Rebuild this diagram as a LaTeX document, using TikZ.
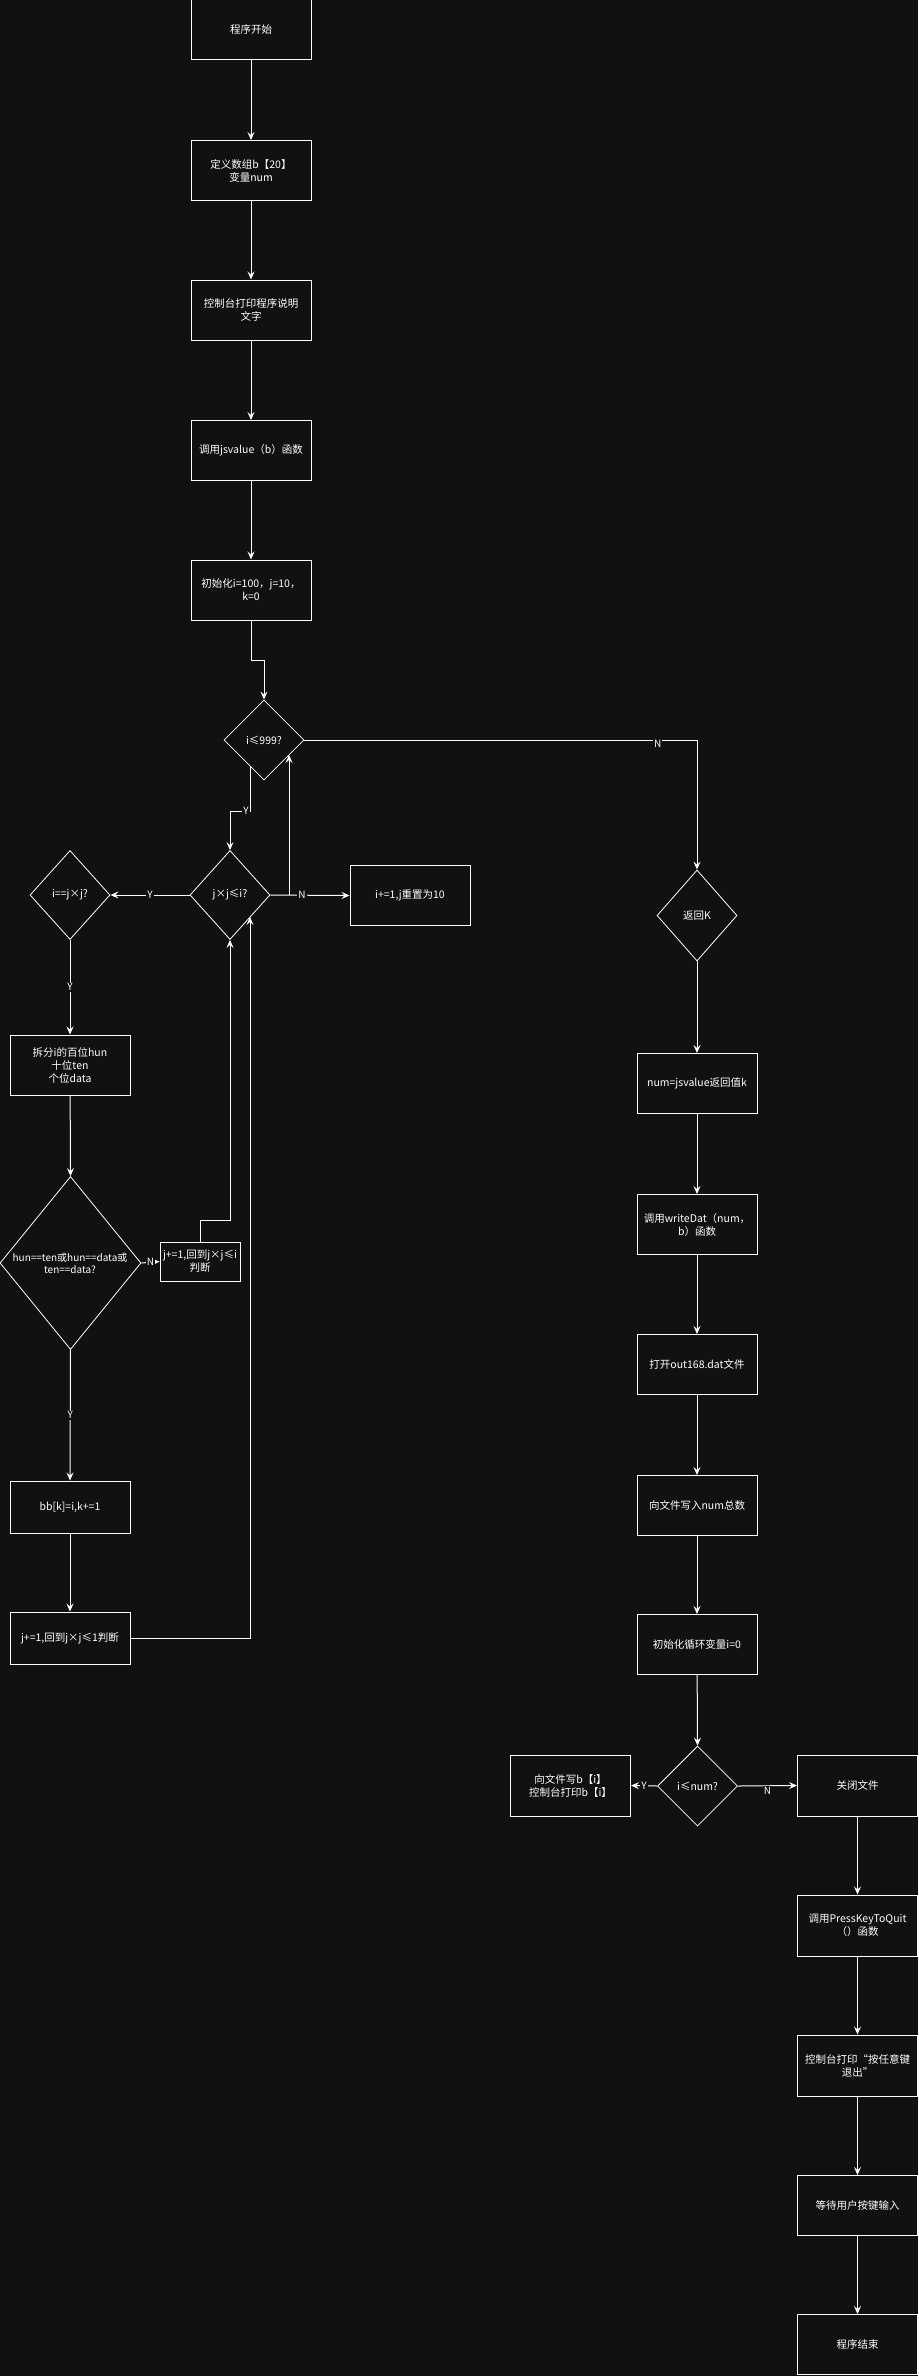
\documentclass[tikz,border=0pt]{standalone}
\usepackage{fontspec}
\setmainfont{Noto Sans CJK SC}
\usetikzlibrary{shapes.geometric,arrows.meta,calc}
\definecolor{bg}{HTML}{111111}
\begin{document}
\begin{tikzpicture}[x=1pt,y=-1pt,
  every node/.style={text=white,font=\fontsize{10.5}{13}\selectfont},
  box/.style={draw=white,line width=1pt,minimum width=120pt,minimum height=60pt,inner sep=1pt,align=center,text width=118pt},
  sbox/.style={box,minimum width=80pt,text width=78pt,minimum height=39pt},
  dia/.style={draw=white,line width=0.8pt,diamond,inner sep=0pt,minimum width=#1,minimum height=#1},
  lab/.style={fill=bg,inner sep=1pt,font=\fontsize{10}{12}\selectfont},
  ar/.style={draw=white,line width=1pt,-{Stealth[length=8pt,width=7pt,inset=3pt]}},
  ln/.style={draw=white,line width=1pt}]
\fill[bg] (0,0) rectangle (918,2376);
\useasboundingbox (0,0) rectangle (918,2376);
% left column
\node[box] (s) at (251,30) {程序开始};
\node[box] (a1) at (251,170.5) {定义数组b【20】\\变量num};
\node[box] (a2) at (251,310) {控制台打印程序说明\\文字};
\node[box] (a3) at (251,450.5) {调用jsvalue（b）函数};
\node[box] (a4) at (251,590) {初始化i=100，j=10，\\k=0};
\node[dia=80pt,label=center:{i≤999?}] (d1) at (264,740) {};
\node[draw=white,line width=0.8pt,diamond,inner sep=0pt,minimum width=80pt,minimum height=89pt,label=center:{j×j≤i?}] (d2) at (230,895) {};
\node[draw=white,line width=0.8pt,diamond,inner sep=0pt,minimum width=80pt,minimum height=89pt,label=center:{i==j×j?}] (d3) at (70,895) {};
\node[box] (r1) at (410,895.5) {i+=1,j重置为10};
\node[box] (b1) at (70,1065) {拆分i的百位hun\\十位ten\\个位data};
\node[draw=white,line width=0.8pt,diamond,inner sep=0pt,minimum width=141pt,minimum height=173pt] (d4) at (70.5,1263) {};
\node[align=center,font=\fontsize{10}{12}\selectfont] (d4t) at (70,1263) {hun==ten或hun==data或\\ten==data?};
\node[sbox,minimum width=80pt,text width=80pt,inner sep=0pt] (b2) at (200,1261.5) {j+=1,回到j×j≤i\\判断};
\node[box,minimum height=52pt] (b3) at (70,1507) {bb[k]=i,k+=1};
\node[box,minimum height=52pt] (b4) at (70,1638) {j+=1,回到j×j≤1判断};
% right column
\node[dia=80pt,minimum height=91pt,label=center:{返回K}] (k) at (697,915.5) {};
\node[box] (c1) at (697,1083.5) {num=jsvalue返回值k};
\node[box] (c2) at (697,1224.5) {调用writeDat（num，\\b）函数};
\node[box] (c3) at (697,1364.5) {打开out168.dat文件};
\node[box] (c4) at (697,1505.5) {向文件写入num总数};
\node[box] (c5) at (697,1644.5) {初始化循环变量i=0};
\node[dia=80pt,label=center:{i≤num?}] (d5) at (697.5,1786) {};
\node[box,minimum height=61pt] (e1) at (570.5,1785.5) {向文件写b【i】\\控制台打印b【i】};
\node[box,minimum height=61pt] (f1) at (857.5,1785.5) {关闭文件};
\node[box,minimum height=61pt] (f2) at (857.5,1925.5) {调用PressKeyToQuit\\（）函数};
\node[box,minimum height=61pt] (f3) at (857.5,2065.5) {控制台打印“按任意键\\退出”};
\node[box] (f4) at (857.5,2205.5) {等待用户按键输入};
\node[box] (f5) at (857.5,2344.5) {程序结束};
% connectors
\draw[ar] (s) -- (a1);
\draw[ar] (a1) -- (a2);
\draw[ar] (a2) -- (a3);
\draw[ar] (a3) -- (a4);
\draw[ar] (a4.south) -- ++(0,40) -| (d1.north);
\coordinate (y1) at (250,767);
\draw[ar] (y1) -- (250,811) -| (d2.north) node[pos=0.1,lab] {Y};
\draw[ar] (d2.west) -- (d3.east) node[midway,lab] {Y};
\draw[ar] (d2.east) -- (r1.west) node[pos=0.4,lab] {N};
\coordinate (up1) at (289,895);
\draw[ar] (up1) -- (289,755);
\draw[ar] (d3.south) -- (b1.north) node[midway,lab] {Y};
\draw[ar] (b1) -- (d4.north);
\draw[ar] (d4.east) -- (b2.west) node[midway,lab] {N};
\draw[ar] (b2.north) |- (230,1220) -- (d2.south);
\draw[ar] (d4.south) -- (b3.north) node[midway,lab] {Y};
\draw[ar] (b3) -- (b4);
\draw[ar] (b4.east) -- (250,1638) -- (250,917);
\draw[ar] (d1.east) -| (k.north) node[pos=0.45,lab,yshift=-4pt] {N};
\draw[ar] (k) -- (c1);
\draw[ar] (c1) -- (c2);
\draw[ar] (c2) -- (c3);
\draw[ar] (c3) -- (c4);
\draw[ar] (c4) -- (c5);
\draw[ar] (c5) -- (d5.north);
\draw[ar] (d5.west) -- (e1.east) node[midway,lab] {Y};
\draw[ar] (d5.east) -- (f1.west) node[midway,lab,yshift=-5pt] {N};
\draw[ar] (f1) -- (f2);
\draw[ar] (f2) -- (f3);
\draw[ar] (f3) -- (f4);
\draw[ar] (f4) -- (f5);
\end{tikzpicture}
\end{document}
